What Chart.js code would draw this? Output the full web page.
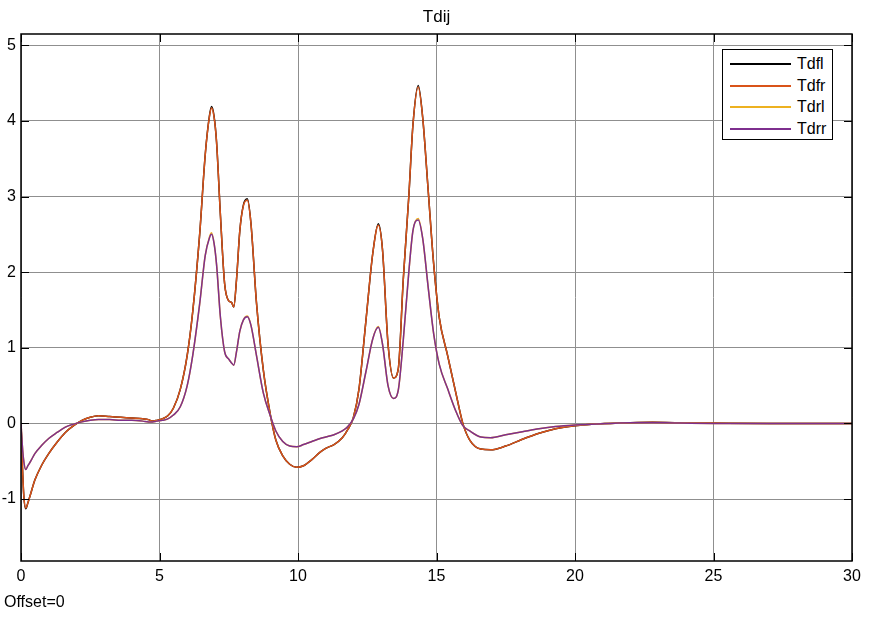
<!DOCTYPE html>
<html lang="en">
<head>
  <meta charset="UTF-8">
  <title>Tdij</title>
  <script src="https://cdn.jsdelivr.net/npm/chart.js"></script>
  <style>
    body {
      margin: 0;
      background: #ffffff;
      font-family: 'Liberation Sans', Arial, sans-serif;
    }

    .wrap {
      position: relative;
      width: 875px;
      height: 619px;
    }

    .title {
      position: absolute;
      left: 21px;
      width: 831px;
      top: 7px;
      text-align: center;
      font-size: 17px;
      color: #000;
    }

    .offset {
      position: absolute;
      left: 4px;
      top: 593px;
      font-size: 16px;
      color: #000;
    }

    .legend {
      position: absolute;
      left: 722px;
      top: 49px;
      width: 109px;
      height: 89px;
      border: 1px solid #000;
      background: #fff;
    }

    .legend .row {
      position: absolute;
      left: 7px;
      height: 20px;
      display: flex;
      align-items: center;
      font-size: 16px;
      color: #000;
    }

    .legend .swatch {
      width: 61px;
      height: 2px;
      margin-right: 6px;
    }
  </style>
</head>
<body>
  <div class="wrap">
    <canvas id="chart" width="875" height="619"></canvas>
    <div class="title">Tdij</div>
    <div class="offset">Offset=0</div>
    <div class="legend" id="legend"></div>
  </div>

  <script>
    // time axis (s)
    const t = [0, 0.05, 0.1, 0.17, 0.25, 0.35, 0.5, 0.75, 1.0, 1.3, 1.6, 1.9, 2.2, 2.5, 2.8, 3.2, 3.6, 4.0, 4.4, 4.6, 4.75, 4.9,
      5.1, 5.3, 5.5, 5.75, 6.0, 6.2, 6.45, 6.65, 6.8, 6.88, 6.97, 7.06, 7.2, 7.35, 7.5, 7.6, 7.68, 7.78, 7.9, 8.03, 8.17, 8.3,
      8.5, 8.75, 9.0, 9.2, 9.45, 9.7, 9.95, 10.2, 10.5, 10.8, 11.0, 11.3, 11.6, 11.8, 12.0, 12.2, 12.45, 12.7, 12.9, 13.05,
      13.25, 13.45, 13.62, 13.8, 14.0, 14.15, 14.34, 14.5, 14.7, 14.9, 15.1, 15.4, 15.7, 15.95, 16.2, 16.6, 16.95, 17.5,
      18.1, 18.7, 19.3, 20.0, 20.6, 21.2, 22.0, 22.8, 23.6, 25.0, 27.0, 30.0];

    const tdfl = [0, -0.55, -0.95, -1.13, -1.05, -0.93, -0.75, -0.55, -0.40, -0.25, -0.12, -0.03, 0.04, 0.08, 0.10, 0.09, 0.08, 0.07, 0.06, 0.05, 0.03, 0.04,
      0.06, 0.10, 0.20, 0.45, 0.90, 1.48, 2.50, 3.55, 4.06, 4.19, 4.06, 3.72, 2.75, 1.85, 1.62, 1.60, 1.54, 1.90, 2.55, 2.89, 2.97, 2.65,
      1.60, 0.70, 0.12, -0.22, -0.43, -0.54, -0.58, -0.56, -0.48, -0.38, -0.33, -0.28, -0.19, -0.08, 0.08, 0.45, 1.35, 2.25, 2.64, 2.30,
      1.05, 0.60, 0.72, 1.90, 3.00, 3.95, 4.47, 4.05, 3.08, 2.10, 1.40, 0.90, 0.40, 0.00, -0.22, -0.34, -0.35, -0.30,
      -0.21, -0.13, -0.07, -0.03, -0.01, 0.00, 0.01, 0.015, 0.01, 0.005, 0, 0];

    const tdfr = [0, -0.55, -0.95, -1.12, -1.05, -0.93, -0.75, -0.55, -0.40, -0.25, -0.12, -0.03, 0.04, 0.08, 0.10, 0.09, 0.08, 0.07, 0.06, 0.05, 0.03, 0.04,
      0.06, 0.10, 0.20, 0.45, 0.90, 1.48, 2.50, 3.55, 4.05, 4.17, 4.05, 3.72, 2.75, 1.85, 1.62, 1.60, 1.54, 1.90, 2.55, 2.88, 2.95, 2.65,
      1.60, 0.70, 0.12, -0.22, -0.43, -0.54, -0.58, -0.56, -0.48, -0.38, -0.33, -0.28, -0.19, -0.08, 0.08, 0.45, 1.35, 2.25, 2.62, 2.30,
      1.05, 0.60, 0.72, 1.90, 3.00, 3.95, 4.45, 4.05, 3.08, 2.10, 1.40, 0.90, 0.40, 0.00, -0.22, -0.34, -0.35, -0.30,
      -0.21, -0.13, -0.07, -0.03, -0.01, 0.00, 0.01, 0.015, 0.01, 0.005, 0, 0];

    const tdrl = [0, -0.30, -0.50, -0.61, -0.56, -0.50, -0.40, -0.29, -0.20, -0.12, -0.05, -0.01, 0.02, 0.04, 0.05, 0.05, 0.04, 0.04, 0.03, 0.02, 0.02, 0.03,
      0.04, 0.06, 0.11, 0.22, 0.50, 0.90, 1.58, 2.22, 2.46, 2.52, 2.38, 2.10, 1.40, 0.95, 0.85, 0.80, 0.77, 0.95, 1.22, 1.37, 1.42, 1.30,
      0.90, 0.40, 0.10, -0.10, -0.24, -0.30, -0.31, -0.28, -0.24, -0.20, -0.18, -0.15, -0.10, -0.04, 0.06, 0.25, 0.68, 1.12, 1.28, 1.05,
      0.50, 0.33, 0.44, 1.10, 2.00, 2.55, 2.71, 2.45, 1.80, 1.18, 0.78, 0.46, 0.16, -0.03, -0.10, -0.18, -0.19, -0.15,
      -0.11, -0.07, -0.04, -0.02, -0.01, 0.00, 0.01, 0.01, 0.005, 0, 0, 0];

    const tdrr = [0, -0.30, -0.50, -0.61, -0.56, -0.50, -0.40, -0.29, -0.20, -0.12, -0.05, -0.01, 0.02, 0.04, 0.05, 0.05, 0.04, 0.04, 0.03, 0.02, 0.02, 0.03,
      0.04, 0.06, 0.11, 0.22, 0.50, 0.90, 1.58, 2.22, 2.45, 2.50, 2.38, 2.10, 1.40, 0.95, 0.85, 0.80, 0.77, 0.95, 1.22, 1.37, 1.41, 1.30,
      0.90, 0.40, 0.10, -0.10, -0.24, -0.30, -0.31, -0.28, -0.24, -0.20, -0.18, -0.15, -0.10, -0.04, 0.06, 0.25, 0.68, 1.12, 1.27, 1.05,
      0.50, 0.33, 0.44, 1.10, 2.00, 2.55, 2.69, 2.45, 1.80, 1.18, 0.78, 0.46, 0.16, -0.03, -0.10, -0.18, -0.19, -0.15,
      -0.11, -0.07, -0.04, -0.02, -0.01, 0.00, 0.01, 0.01, 0.005, 0, 0, 0];

    const seriesNames = ['Tdfl', 'Tdfr', 'Tdrl', 'Tdrr'];
    const seriesColors = ['#000000', '#D95319', '#EDB120', '#7E2F8E'];
    const xTicks = [0, 5, 10, 15, 20, 25, 30];
    const yTicks = [-1, 0, 1, 2, 3, 4, 5];

    const pts = (ys) => t.map((x, i) => ({ x: x, y: ys[i] }));
    const allSeries = [tdfl, tdfr, tdrl, tdrr];
    const tickFont = { family: "'Liberation Sans', Arial, sans-serif", size: 16 };

    // box around the axes with inward tick marks, like the scope window
    const boxPlugin = {
      id: 'box',
      afterDraw(chart) {
        const { ctx, chartArea: a, scales } = chart;
        ctx.save();
        ctx.strokeStyle = '#000';
        ctx.lineWidth = 1;
        ctx.beginPath();
        xTicks.forEach(v => {
          const px = Math.round(scales.x.getPixelForValue(v)) + 0.5;
          ctx.moveTo(px, a.bottom); ctx.lineTo(px, a.bottom - 8);
          ctx.moveTo(px, a.top); ctx.lineTo(px, a.top + 8);
        });
        yTicks.forEach(v => {
          const py = Math.round(scales.y.getPixelForValue(v)) + 0.5;
          ctx.moveTo(a.left, py); ctx.lineTo(a.left + 8, py);
          ctx.moveTo(a.right, py); ctx.lineTo(a.right - 8, py);
        });
        ctx.stroke();
        ctx.lineWidth = 1.5;
        ctx.strokeRect(a.left, a.top, a.right - a.left, a.bottom - a.top);
        ctx.restore();
      }
    };

    const chart = new Chart(document.getElementById('chart'), {
      type: 'line',
      data: {
        datasets: allSeries.map((s, i) => ({
          label: seriesNames[i],
          data: pts(s),
          borderColor: seriesColors[i],
          borderWidth: 1.5,
          pointRadius: 0,
          cubicInterpolationMode: 'monotone',
          fill: false,
          order: allSeries.length - i   // later series drawn on top
        }))
      },
      options: {
        responsive: false,
        animation: false,
        layout: { padding: { top: 34, left: 0, right: 23, bottom: 28 } },
        plugins: {
          legend: { display: false },
          title: { display: false },
          tooltip: { enabled: false }
        },
        scales: {
          x: {
            type: 'linear',
            min: 0,
            max: 30,
            afterBuildTicks: (s) => { s.ticks = xTicks.map(v => ({ value: v })); },
            afterFit: (s) => { s.height = 30; },
            grid: { color: '#8f8f8f', lineWidth: 1, drawTicks: false },
            border: { display: false },
            ticks: { padding: 6, color: '#000', font: tickFont }
          },
          y: {
            type: 'linear',
            min: -1.82,
            max: 5.15,
            afterBuildTicks: (s) => { s.ticks = yTicks.map(v => ({ value: v })); },
            afterFit: (s) => { s.width = 21; },
            grid: { color: '#8f8f8f', lineWidth: 1, drawTicks: false },
            border: { display: false },
            ticks: { padding: 5, color: '#000', font: tickFont }
          }
        }
      },
      plugins: [boxPlugin]
    });

    // legend built from the datasets
    const legend = document.getElementById('legend');
    chart.data.datasets.forEach((ds, i) => {
      const row = document.createElement('div');
      row.className = 'row';
      row.style.top = (4 + i * 21.7) + 'px';
      row.innerHTML = '<span class="swatch" style="background:' + ds.borderColor + '"></span>' + ds.label;
      legend.appendChild(row);
    });
  </script>
</body>
</html>
